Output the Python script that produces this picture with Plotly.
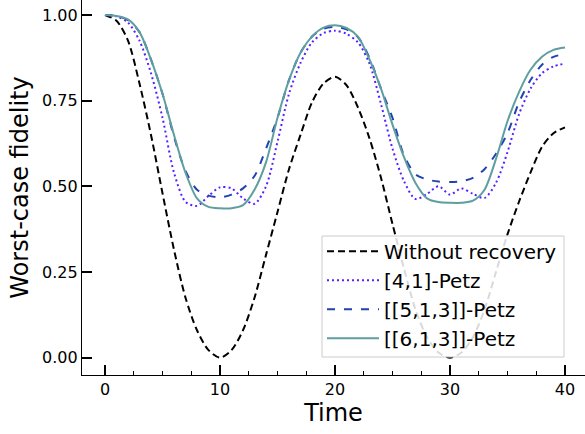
import plotly.graph_objects as go

time = list(range(0, 41))

without_recovery = [1.0, 0.983, 0.925, 0.80, 0.65, 0.48, 0.315, 0.175, 0.08, 0.022, 0.0,
                    0.022, 0.08, 0.175, 0.30, 0.425, 0.55, 0.65, 0.745, 0.80, 0.82,
                    0.795, 0.73, 0.64, 0.525, 0.39, 0.26, 0.14, 0.06, 0.015, 0.0,
                    0.015, 0.06, 0.14, 0.25, 0.36, 0.455, 0.54, 0.615, 0.655, 0.672]

petz_4_1 = [1.0, 0.996, 0.978, 0.925, 0.83, 0.70, 0.54, 0.455, 0.443, 0.472, 0.497,
            0.494, 0.465, 0.449, 0.50, 0.63, 0.77, 0.86, 0.92, 0.947, 0.954,
            0.945, 0.92, 0.858, 0.74, 0.61, 0.515, 0.463, 0.478, 0.500, 0.476,
            0.494, 0.478, 0.466, 0.51, 0.60, 0.71, 0.785, 0.83, 0.85, 0.858]

petz_5_1_3 = [1.0, 0.997, 0.985, 0.95, 0.87, 0.77, 0.645, 0.545, 0.49, 0.473, 0.468,
              0.476, 0.494, 0.53, 0.61, 0.70, 0.81, 0.89, 0.937, 0.96, 0.965,
              0.958, 0.935, 0.875, 0.785, 0.70, 0.59, 0.535, 0.52, 0.514, 0.513,
              0.515, 0.525, 0.55, 0.595, 0.655, 0.745, 0.81, 0.855, 0.878, 0.886]

petz_6_1_3 = [1.0, 0.997, 0.987, 0.95, 0.87, 0.77, 0.65, 0.54, 0.465, 0.44, 0.436,
              0.436, 0.445, 0.49, 0.57, 0.70, 0.81, 0.89, 0.937, 0.963, 0.970,
              0.962, 0.937, 0.87, 0.785, 0.68, 0.585, 0.51, 0.465, 0.454, 0.452,
              0.452, 0.458, 0.49, 0.58, 0.69, 0.775, 0.84, 0.878, 0.898, 0.905]

names = ["Without recovery", "[4,1]-Petz", "[[5,1,3]]-Petz", "[[6,1,3]]-Petz"]
series = [without_recovery, petz_4_1, petz_5_1_3, petz_6_1_3]
colors = ["#000000", "#5522ff", "#2142b0", "#5f9ea0"]
dashes = ["7px,4px", "2px,3px", "8px,9px", "solid"]

fig = go.Figure()
for i, (nm, ys, c, d) in enumerate(zip(names, series, colors, dashes)):
    fig.add_trace(go.Scatter(x=time, y=ys, mode="lines", name=nm, legendgroup=f"g{i}",
                             line=dict(color=c, width=2, dash=d, shape="spline", smoothing=0.8)))

axis_font = dict(family="DejaVu Sans", size=16, color="black")

# legend frame (drawn as a shape so its size matches the reference box)
plot_left, plot_w, plot_h = 82, 503, 375
box_x0 = (322 - plot_left) / plot_w
box_x1 = (564 - plot_left) / plot_w
box_y0 = (plot_h - 357) / plot_h
box_y1 = (plot_h - 236) / plot_h

fig.add_shape(type="rect", xref="paper", yref="paper", x0=box_x0, x1=box_x1, y0=box_y0, y1=box_y1,
              fillcolor="rgba(255,255,255,0.85)", line=dict(color="#cccccc", width=1), layer="above")

fig.update_layout(
    width=585, height=434,
    margin=dict(l=82, r=0, t=0, b=59),
    paper_bgcolor="white", plot_bgcolor="white",
    font=dict(family="DejaVu Sans", color="black"),
    showlegend=True,
    legend=dict(x=box_x0, y=0.046, xanchor="left", yanchor="bottom",
                bgcolor="rgba(0,0,0,0)", borderwidth=0,
                font=dict(family="DejaVu Sans", size=20, color="black"),
                tracegroupgap=2, traceorder="normal", itemwidth=52),
    xaxis=dict(range=[-2.0, 41.74], showgrid=False, zeroline=False, automargin=False,
               showline=True, linecolor="black", linewidth=1.3, mirror=False,
               ticks="inside", ticklen=10, tickwidth=1.5, tickcolor="black",
               tickmode="linear", tick0=0, dtick=10, tickfont=axis_font,
               minor=dict(ticks="inside", ticklen=4, tickwidth=1.2, tickcolor="black",
                          tickmode="linear", tick0=0, dtick=2.5, showgrid=False),
               title=dict(text="Time", font=dict(family="DejaVu Sans", size=24, color="black"),
                          standoff=4)),
    yaxis=dict(range=[-0.0505, 1.0437], showgrid=False, zeroline=False, automargin=False,
               showline=True, linecolor="black", linewidth=1.3, mirror=False,
               ticks="inside", ticklen=10, tickwidth=1.5, tickcolor="black",
               tickvals=[0, 0.25, 0.5, 0.75, 1.0], tickformat=".2f", tickfont=axis_font,
               ticklabeloverflow="allow",
               title=dict(text="Worst-case fidelity", font=dict(family="DejaVu Sans", size=24, color="black"),
                          standoff=6)),
)

# remove the browser's default 8px page margin so the figure fills the window exactly
fig.write_html("out.html", config={"displayModeBar": False},
               post_script="document.body.style.margin='0';")
